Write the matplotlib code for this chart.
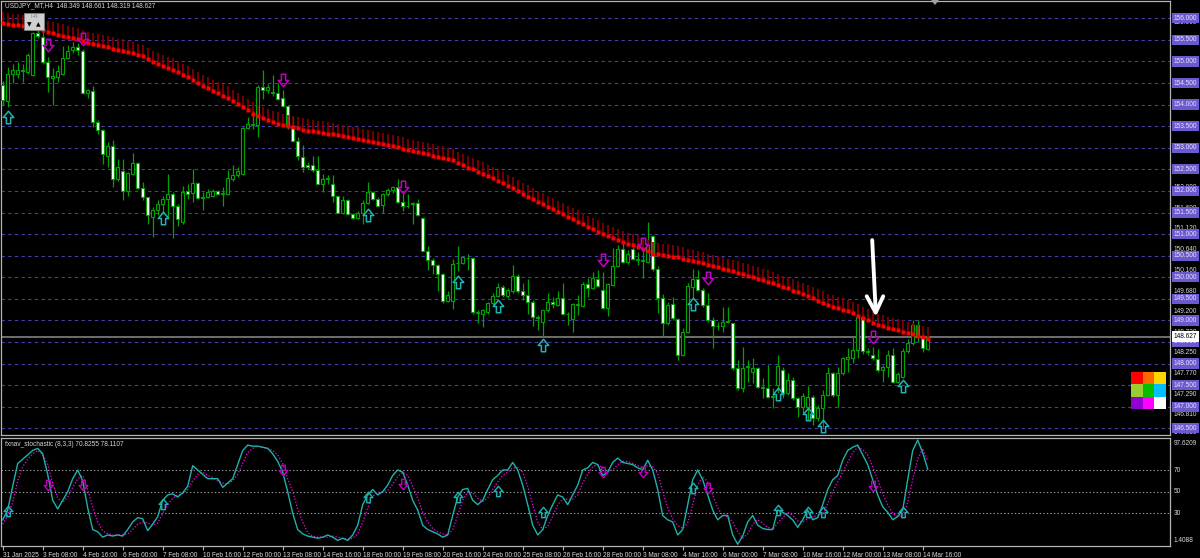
import numpy as np
import matplotlib.pyplot as plt
from matplotlib.path import Path
from matplotlib.patches import Rectangle, Polygon
import matplotlib.transforms as mtransforms

plt.rcParams['font.family'] = ['Liberation Sans', 'DejaVu Sans']

# ---------------- data (USDJPY H4) ----------------
open_px = [154.45,154.09,154.72,154.72,154.80,154.76,154.68,155.65,155.57,154.99,
 154.62,154.64,154.71,155.09,155.26,155.33,155.25,154.27,154.31,153.60,
 153.42,152.82,153.03,152.28,152.47,152.01,152.40,152.64,152.06,151.85,
 151.39,151.56,151.70,151.81,151.93,151.66,151.27,151.99,151.95,152.18,
 151.84,151.86,151.89,152.00,151.93,151.93,152.28,152.36,152.39,153.46,
 153.52,153.52,154.41,154.33,154.26,154.26,154.16,153.96,153.48,153.15,
 152.78,152.60,152.59,152.49,152.16,152.27,152.16,151.89,151.50,151.79,
 151.47,151.37,151.48,151.71,151.97,151.81,151.68,151.92,152.02,152.10,
 151.74,151.64,151.69,151.71,151.37,150.61,150.40,150.29,150.07,149.45,
 149.45,150.32,150.34,150.44,150.44,149.18,149.16,149.20,149.40,149.57,
 149.77,149.57,149.67,150.04,149.69,149.59,149.43,149.08,148.97,149.23,
 149.43,149.36,149.53,149.16,149.03,149.35,149.33,149.84,149.74,149.97,
 149.70,149.28,149.82,150.25,150.65,150.36,150.65,150.41,150.38,150.36,
 150.96,150.18,149.51,148.93,149.38,149.03,148.20,148.74,149.77,149.97,
 149.70,149.36,149.01,148.86,148.86,148.98,148.93,147.89,147.43,147.93,
 147.81,147.89,147.44,147.43,147.22,147.50,147.85,147.31,147.62,147.20,
 147.00,146.99,147.22,146.73,146.96,147.27,147.77,147.27,147.77,148.10,
 148.14,148.31,149.09,148.29,148.20,148.10,147.84,147.93,148.20,147.58,
 147.70,148.28,148.48,148.89,148.62,148.349]
high_px = [154.55,154.88,154.95,154.99,154.95,155.20,155.69,155.77,155.73,155.11,
 154.84,154.92,155.36,155.38,155.46,155.42,155.28,154.37,154.43,153.64,
 153.44,153.13,153.17,152.74,152.74,152.43,152.88,152.67,152.20,151.87,
 151.62,151.78,151.89,152.40,151.97,151.70,152.12,152.16,152.51,152.20,
 151.97,152.05,152.05,152.02,152.09,152.49,152.59,152.55,153.48,153.71,
 153.87,154.45,154.80,154.47,154.68,154.49,154.33,153.99,153.71,153.25,
 153.06,152.67,152.82,152.82,152.40,152.37,152.38,151.89,151.89,151.81,
 151.50,151.54,151.78,152.20,152.01,151.85,151.95,152.07,152.12,152.28,
 151.95,151.93,151.74,151.81,151.39,150.73,150.44,150.30,150.09,149.68,
 150.42,150.73,150.50,150.54,150.48,149.24,149.26,149.43,149.63,149.87,
 149.82,149.74,150.28,150.08,149.86,149.95,149.47,149.13,149.24,149.63,
 149.55,149.67,149.87,149.20,149.40,149.59,149.90,149.98,150.13,150.17,
 150.13,149.86,150.67,150.75,150.79,150.63,150.71,150.59,150.63,151.29,
 150.98,150.25,149.61,149.43,149.55,149.05,148.82,149.87,150.18,150.17,
 149.74,149.63,149.09,148.97,149.32,149.30,148.95,148.08,148.39,148.08,
 148.12,147.93,147.66,147.97,147.43,148.20,147.93,147.77,147.70,147.23,
 147.31,147.47,147.27,147.04,147.39,147.93,147.81,147.93,148.15,148.35,
 148.62,149.13,149.13,148.35,148.39,148.33,147.97,148.31,148.35,147.81,
 148.35,148.58,149.01,149.01,148.70,148.661]
low_px = [154.00,153.95,154.49,154.61,154.53,154.72,154.67,155.54,154.95,154.29,
 153.99,154.53,154.68,155.05,155.19,155.15,154.24,154.16,153.47,153.33,
 152.63,152.55,152.09,152.24,151.79,151.89,152.36,152.05,151.78,151.23,
 150.94,151.45,151.47,151.39,150.90,151.19,151.23,151.81,151.74,151.81,
 151.56,151.84,151.85,151.91,151.64,151.91,152.24,152.32,152.36,153.44,
 153.44,153.26,154.12,154.26,154.19,154.10,153.95,153.44,153.13,152.71,
 152.43,152.51,152.43,152.15,151.97,152.16,151.74,151.48,151.47,151.45,
 151.35,151.35,151.23,151.70,151.78,151.64,151.50,151.89,151.95,151.71,
 151.54,151.60,151.23,151.43,150.60,150.16,150.07,149.68,149.41,149.43,
 149.26,150.15,150.30,150.16,149.16,148.93,148.84,149.16,149.36,149.55,
 149.55,149.51,149.63,149.63,149.47,149.16,148.86,148.78,148.62,149.20,
 149.28,149.33,149.13,148.89,148.74,149.13,149.32,149.55,149.72,149.77,
 149.26,149.10,149.80,150.23,150.32,150.31,150.40,150.28,149.98,150.32,
 150.15,149.17,148.62,148.89,149.01,148.08,148.18,148.70,149.51,149.67,
 149.32,148.97,148.35,148.78,148.74,148.93,147.85,147.39,147.35,147.58,
 147.54,147.43,147.20,147.20,146.96,147.31,147.20,147.27,147.16,146.77,
 146.85,146.69,146.58,146.68,146.54,147.25,147.23,147.00,147.74,147.81,
 148.01,148.12,148.22,148.20,148.08,147.81,147.58,147.70,147.56,147.54,
 147.66,148.25,148.43,148.51,148.27,148.319]
close_px = [154.10,154.72,154.80,154.80,154.77,155.15,155.65,155.59,154.99,154.64,
 154.66,154.78,155.09,155.25,155.33,155.26,154.26,154.33,153.60,153.42,
 152.85,153.03,152.28,152.55,152.01,152.41,152.64,152.06,151.85,151.45,
 151.56,151.70,151.81,151.93,151.66,151.35,151.97,151.93,152.18,151.84,
 151.86,151.97,152.01,151.93,151.95,152.29,152.36,152.47,153.46,153.54,
 153.54,154.40,154.35,154.40,154.30,154.14,153.96,153.50,153.15,152.80,
 152.55,152.55,152.49,152.16,152.28,152.29,151.89,151.50,151.79,151.47,
 151.37,151.50,151.71,151.97,151.81,151.66,151.92,152.02,152.09,151.74,
 151.64,151.66,151.71,151.45,150.61,150.40,150.29,150.07,149.45,149.59,
 150.30,150.34,150.46,150.45,149.20,149.20,149.23,149.40,149.57,149.77,
 149.59,149.70,150.04,149.67,149.59,149.43,149.07,149.06,149.23,149.43,
 149.38,149.53,149.15,149.14,149.38,149.37,149.84,149.74,149.99,149.80,
 149.28,149.84,150.25,150.65,150.36,150.55,150.42,150.43,150.40,150.75,
 150.18,149.51,148.93,149.36,149.05,148.20,148.74,149.80,149.97,149.70,
 149.36,149.01,148.87,148.88,148.97,148.96,147.89,147.43,147.89,147.95,
 147.89,147.45,147.46,147.23,147.24,147.94,147.31,147.62,147.20,147.00,
 147.25,147.23,146.73,146.96,147.27,147.77,147.27,147.77,148.12,148.16,
 148.31,149.09,148.28,148.27,148.12,147.84,147.91,148.20,147.58,147.76,
 148.28,148.48,148.89,148.62,148.35,148.627]

# red moving average (dots) read per bar
ma_px = [155.88,155.87,155.85,155.84,155.82,155.81,155.78,155.75,155.72,155.68,
 155.65,155.62,155.60,155.57,155.54,155.51,155.47,155.43,155.41,155.38,
 155.36,155.33,155.30,155.27,155.25,155.22,155.19,155.15,155.12,155.05,
 154.99,154.94,154.90,154.85,154.81,154.76,154.69,154.63,154.56,154.50,
 154.43,154.38,154.32,154.27,154.21,154.16,154.09,154.02,153.95,153.87,
 153.79,153.74,153.69,153.64,153.60,153.56,153.52,153.50,153.48,153.45,
 153.42,153.40,153.38,153.37,153.35,153.33,153.31,153.29,153.27,153.25,
 153.23,153.21,153.18,153.16,153.13,153.11,153.08,153.06,153.03,153.01,
 152.98,152.95,152.93,152.90,152.88,152.85,152.82,152.79,152.77,152.74,
 152.71,152.65,152.60,152.54,152.50,152.45,152.40,152.34,152.29,152.23,
 152.18,152.12,152.06,151.99,151.93,151.87,151.81,151.75,151.69,151.63,
 151.57,151.51,151.46,151.40,151.35,151.29,151.23,151.17,151.12,151.06,
 151.00,150.95,150.91,150.86,150.82,150.77,150.74,150.71,150.66,150.60,
 150.55,150.53,150.51,150.50,150.48,150.46,150.43,150.40,150.38,150.35,
 150.32,150.29,150.26,150.23,150.20,150.17,150.14,150.11,150.08,150.04,
 150.01,149.97,149.93,149.90,149.86,149.82,149.78,149.74,149.69,149.65,
 149.61,149.56,149.51,149.46,149.41,149.36,149.32,149.28,149.25,149.21,
 149.17,149.11,149.05,149.00,148.94,148.89,148.86,148.83,148.80,148.77,
 148.74,148.71,148.68,148.64,148.61,148.58]

stoch_main = [24,33,55,76,80,84,88,90,85,66,
 42,34,42,50,62,70,60,35,15,13,
 8,10,9,10,9,15,22,26,25,14,
 20,27,42,47,48,45,49,55,74,70,
 66,62,62,62,54,58,62,75,88,93,
 92,92,91,90,85,78,68,50,30,15,
 11,9,8,7,8,10,8,5,7,5,
 10,19,38,47,52,47,50,56,65,70,
 68,56,42,33,19,15,13,11,8,10,
 28,45,52,53,42,38,42,52,61,65,
 70,70,77,70,56,38,19,10,15,28,
 38,47,45,38,47,56,70,72,77,75,
 65,68,77,81,77,76,75,72,70,79,
 70,52,28,24,22,10,15,38,61,70,
 61,47,33,24,28,28,10,1.4,9,22,
 28,19,16,15,15,33,31,28,24,17,
 24,33,24,26,38,52,61,65,79,88,
 91,93,84,75,61,47,36,31,24,27,
 33,61,88,97.6,86,70.8]
stoch_signal = [20,28,40,60,73,80,85,88,84,75,
 58,44,40,45,54,62,65,52,36,22,
 14,11,10,10,10,11,15,20,22,21,
 19,21,30,38,44,47,48,52,60,66,
 68,65,63,60,58,57,60,66,76,86,
 90,92,91,90,88,84,76,62,50,34,
 22,12,9,8,8,8,9,8,7,6,
 7,11,22,35,46,49,50,51,57,64,
 68,65,55,44,31,22,16,13,11,10,
 15,28,42,50,49,44,41,44,52,59,
 65,68,72,72,68,55,38,22,15,18,
 27,38,43,43,43,47,58,66,73,75,
 72,69,70,75,78,78,76,74,72,74,
 73,67,50,35,25,19,16,21,38,56,
 64,59,47,35,28,27,22,13,7,11,
 20,24,21,17,15,21,26,31,28,23,
 22,25,27,28,29,39,50,59,68,77,
 86,91,89,84,73,61,48,38,30,27,
 28,40,61,80,90,78.1]

# signal arrows: bar index, price (arrow centre), stochastic value (arrow centre)
up_bars = [1, 32, 73, 91, 99, 108, 138, 155, 161, 164, 180]
up_price = [153.71, 151.37, 151.45, 149.90, 149.33, 148.42, 149.38, 147.30, 146.84, 146.55, 147.49]
up_stoch = [32, 39, 45, 45, 51, 31, 53, 33, 31, 31, 31]
down_bars = [9, 16, 56, 80, 120, 128, 141, 174]
down_price = [155.39, 155.51, 154.58, 152.08, 150.39, 150.77, 149.98, 148.61]
down_stoch = [56, 56, 70, 57, 68, 68, 53, 55]

grid_levels = [156.0, 155.5, 155.0, 154.5, 154.0, 153.5, 153.0, 152.5, 152.0, 151.5,
               151.0, 150.5, 150.0, 149.5, 149.0, 148.5, 148.0, 147.5, 147.0, 146.5]
# native scale labels that are not hidden behind the level boxes
scale_labels = ['155.900', '155.420', '154.940', '152.080', '151.600', '151.120', '150.640',
                '150.160', '149.680', '149.200', '148.730', '148.250', '147.770', '147.290',
                '146.810', '146.330']
bid_price = 148.627
stoch_levels = [70, 50, 30]
stoch_min, stoch_max = 1.4088, 97.6209

time_labels = ['31 Jan 2025', '3 Feb 08:00', '4 Feb 16:00', '6 Feb 00:00', '7 Feb 08:00',
               '10 Feb 16:00', '12 Feb 00:00', '13 Feb 08:00', '14 Feb 16:00', '18 Feb 00:00',
               '19 Feb 08:00', '20 Feb 16:00', '24 Feb 00:00', '25 Feb 08:00', '26 Feb 16:00',
               '28 Feb 00:00', '3 Mar 08:00', '4 Mar 16:00', '6 Mar 00:00', '7 Mar 08:00',
               '10 Mar 16:00', '12 Mar 00:00', '13 Mar 08:00', '14 Mar 16:00']
time_label_bars = list(range(0, 8 * len(time_labels), 8))

# hand drawn white arrow (bar, price)
note_bar, note_top, note_tip = 174, 150.86, 149.18

palette = [['#ff0000', '#ff6a00', '#ffd700'],
           ['#9acd32', '#00c000', '#00bfff'],
           ['#9400d3', '#ff00ff', '#ffffff']]

# ---------------- drawing ----------------
W, H = 1200, 558
fig = plt.figure(figsize=(12, 5.58), dpi=100, facecolor='black')

def fig_rect(x0, y0, x1, y1):
    return [x0 / W, 1 - y1 / H, (x1 - x0) / W, (y1 - y0) / H]

def px(x, y):
    return (x / W, 1 - y / H)

ax = fig.add_axes(fig_rect(1, 1, 1170, 435))
ax2 = fig.add_axes(fig_rect(1, 438, 1170, 546))
frame_col = '#b4b4b4'
text_col = '#d8d8d8'
green = '#00a400'
fs = 4.7
for a in (ax, ax2):
    a.set_facecolor('black')
    for s in a.spines.values():
        s.set_color(frame_col)
        s.set_linewidth(0.9)
    a.set_xlim(-0.34, 233.46)

ax.set_ylim(146.345, 156.401)
ax2.set_ylim(-0.18, 99.55)
ax.set_xticks([])
ax.set_yticks([])
ax2.set_yticks([])

o = np.array(open_px); h = np.array(high_px); l = np.array(low_px); c = np.array(close_px)
x = np.arange(len(c))

# grid
for lev in grid_levels:
    ax.axhline(lev, color='#4840a8', lw=0.8, ls=(0, (3, 3)), zorder=1)
ax.axhline(bid_price, color='#8c8c8c', lw=1.1, zorder=1.5)

# candles
ax.vlines(x, l, h, color=green, lw=0.9, zorder=2)
bull = c >= o
lo = np.minimum(o, c)
bh = np.maximum(np.abs(c - o), 0.015)
ax.bar(x[bull], bh[bull], bottom=lo[bull], width=0.66, color='black', edgecolor=green, lw=0.8, zorder=3)
ax.bar(x[~bull], bh[~bull], bottom=lo[~bull], width=0.66, color='white', edgecolor=green, lw=0.8, zorder=3)

# red MA with dark-red tails
ma = np.array(ma_px)
ax.vlines(x, ma, ma + 0.26, color='#8b0000', lw=1.2, zorder=4)
ax.plot(x, ma, ls='none', marker='s', ms=2.8, color='#ff0000', mec='none', zorder=5)

# arrow markers
av = [(-0.17, -0.5), (0.17, -0.5), (0.17, 0.0), (0.42, 0.0), (0.0, 0.5), (-0.42, 0.0), (-0.17, 0.0), (-0.17, -0.5)]
codes = [Path.MOVETO] + [Path.LINETO] * 6 + [Path.CLOSEPOLY]
up_arrow = Path(av, codes)
down_arrow = Path([(vx, -vy) for vx, vy in av], codes)
cyan = '#20b2b2'
magenta = '#c000c0'
ax.plot(up_bars, up_price, ls='none', marker=up_arrow, ms=9, mfc='none', mec=cyan, mew=1.1, zorder=6)
ax.plot(down_bars, down_price, ls='none', marker=down_arrow, ms=9, mfc='none', mec=magenta, mew=1.1, zorder=6)

# white hand-drawn arrow
ax.plot([note_bar - 0.1, note_bar + 0.6], [note_top, note_tip + 0.03], color='white', lw=2.8,
        solid_capstyle='round', zorder=7)
ax.plot([note_bar - 1.2, note_bar + 0.6, note_bar + 2.1], [note_tip + 0.38, note_tip, note_tip + 0.38],
        color='white', lw=2.8, solid_capstyle='round', solid_joinstyle='round', zorder=7)

# right price scale
rt = mtransforms.blended_transform_factory(ax.transAxes, ax.transData)
xr = 1 + 4 / 1169
for i, lab in enumerate(scale_labels):
    ax.text(xr, float(lab), lab, transform=rt, fontsize=fs, color=text_col,
            va='bottom' if i == len(scale_labels) - 1 else 'center', ha='left', clip_on=False)
for lev in grid_levels:
    ax.text(xr, lev, f'{lev:.3f}', transform=rt, fontsize=fs, color='#e4e4ff', va='center', ha='left',
            clip_on=False, zorder=8,
            bbox=dict(boxstyle='square,pad=0.25', fc='#6a5acd', ec='none'))
ax.text(xr, bid_price, f'{bid_price:.3f}', transform=rt, fontsize=fs, color='black', va='center',
        ha='left', clip_on=False, zorder=9, bbox=dict(boxstyle='square,pad=0.25', fc='white', ec='none'))

# stochastic panel
ax2.plot(x, stoch_main, color='#20b2aa', lw=1.0, zorder=3)
ax2.plot(x, stoch_signal, color='#ff00ff', lw=0.9, ls=(0, (1, 1.5)), zorder=2)
for lev in stoch_levels:
    ax2.axhline(lev, color='#9a9a9a', lw=0.8, ls=(0, (1.2, 2)), zorder=1)
ax2.plot(up_bars, up_stoch, ls='none', marker=up_arrow, ms=7.5, mfc='none', mec=cyan, mew=1.0, zorder=6)
ax2.plot(down_bars, down_stoch, ls='none', marker=down_arrow, ms=7.5, mfc='none', mec=magenta, mew=1.0, zorder=6)
rt2 = mtransforms.blended_transform_factory(ax2.transAxes, ax2.transData)
ax2.text(xr, stoch_max, f'{stoch_max:.4f}', transform=rt2, fontsize=fs, color=text_col, va='top', ha='left')
for lev in stoch_levels:
    ax2.text(xr, lev, str(lev), transform=rt2, fontsize=fs, color=text_col, va='center', ha='left')
ax2.text(xr, stoch_min, f'{stoch_min:.4f}', transform=rt2, fontsize=fs, color=text_col, va='bottom', ha='left')
ax2.text(0.003, 0.97, 'fxnav_stochastic (8,3,3) 70.8255 78.1107', transform=ax2.transAxes,
         fontsize=fs, color=text_col, va='top', ha='left')

# time axis
ax2.set_xticks(time_label_bars)
ax2.set_xticklabels(time_labels, ha='left', fontsize=fs, color=text_col)
ax2.tick_params(axis='x', length=3, color=frame_col, pad=1.5)

# header and little widgets
fig.text(*px(5, 6), 'USDJPY_MT,H4  148.349 148.661 148.319 148.627', fontsize=fs,
         color=text_col, va='center', ha='left')
fig.add_artist(Rectangle(px(24, 30), 20 / W, 17 / H, transform=fig.transFigure,
                         fc='#d0d0d0', ec='#808080', lw=0.6, zorder=10))
fig.text(*px(34, 17), 'H4', fontsize=4.3, color='#909090', ha='center', va='center', zorder=11)
fig.text(*px(29.5, 25), '▼', fontsize=4.3, color='black', ha='center', va='center', zorder=11,
         family='DejaVu Sans')
fig.text(*px(38.5, 25), '▲', fontsize=4.3, color='black', ha='center', va='center', zorder=11,
         family='DejaVu Sans')
fig.add_artist(Polygon([px(931, 0), px(939, 0), px(935, 5)], closed=True, transform=fig.transFigure,
                       fc='#a0a0a0', ec='none', zorder=10))
for r, row in enumerate(palette):
    for k, col in enumerate(row):
        fig.add_artist(Rectangle(px(1131 + 11.5 * k, 384 + 12.5 * r), 11.5 / W, 12.5 / H,
                                 transform=fig.transFigure, fc=col, ec='none', zorder=10))

fig.savefig('out.png', dpi=100, facecolor='black')
